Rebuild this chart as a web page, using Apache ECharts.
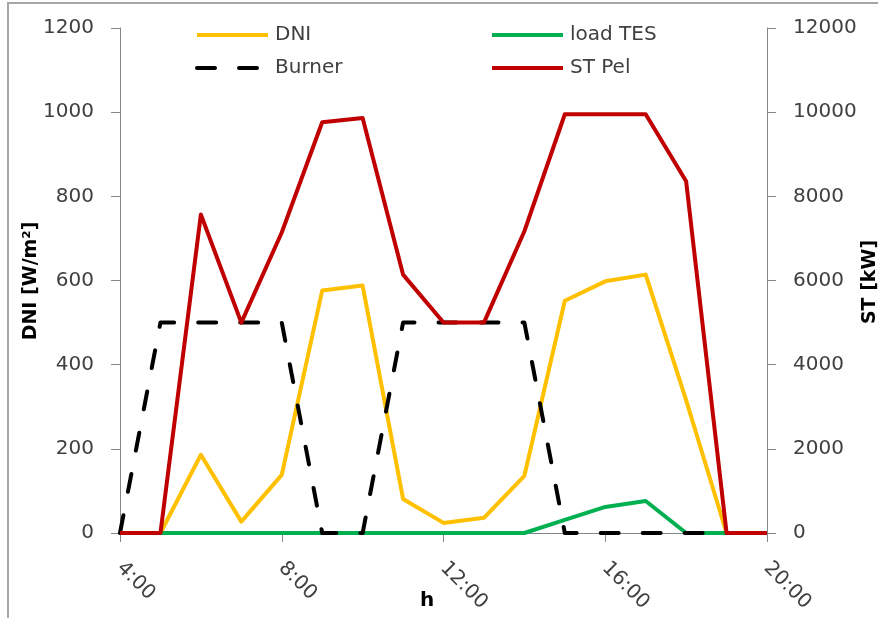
<!DOCTYPE html>
<html>
<head>
<meta charset="utf-8">
<title>DNI, burner, TES loading and steam turbine output</title>
<script src="https://cdn.jsdelivr.net/npm/echarts@6/dist/echarts.min.js"></script>
<style>
  html, body { margin: 0; padding: 0; background: #ffffff; }
  #chart { width: 878px; height: 618px; }
</style>
</head>
<body>
<div id="chart"></div>
<script>
// Hour of day for every sample
const hours = [4, 5, 6, 7, 8, 9, 10, 11, 12, 13, 14, 15, 16, 17, 18, 19, 20];

// Direct normal irradiance [W/m²] (left axis)
const dni = [0, 0, 186, 27, 138, 576, 588, 81, 24, 36, 136, 552, 598, 614, 316, 0, 0];

// Thermal storage loading [kW] (right axis)
const loadTes = [0, 0, 0, 0, 0, 0, 0, 0, 0, 0, 0, 310, 620, 760, 0, 0, 0];

// Burner operation [kW] (right axis)
const burner = [0, 5000, 5000, 5000, 5000, 0, 0, 5000, 5000, 5000, 5000, 0, 0, 0, 0, 0, 0];

// Steam turbine electrical output [kW] (right axis)
const stPel = [0, 0, 7570, 5000, 7140, 9760, 9860, 6140, 5000, 5000, 7170, 9950, 9950, 9950, 8360, 0, 0];

// Axis tick definitions
const hourTicks = { min: 4, max: 20, step: 4 };
const dniTicks = { min: 0, max: 1200, step: 200 };
const powerTicks = { min: 0, max: 12000, step: 2000 };

const pairs = (ys) => hours.map((h, i) => [h, ys[i]]);

const FONT = 'DejaVu Sans';
const TEXT = '#404040';
const AXIS = '#868686';

const chart = echarts.init(document.getElementById('chart'), null, { renderer: 'canvas' });

const lineSeries = (name, data, color, yAxisIndex, dash) => ({
  name: name,
  type: 'line',
  yAxisIndex: yAxisIndex,
  data: pairs(data),
  symbol: 'none',
  smooth: false,
  lineStyle: {
    color: color,
    width: 4,
    type: dash || 'solid',
    cap: dash ? 'round' : 'butt',
    join: 'round'
  },
  itemStyle: { color: color },
  emphasis: { disabled: true }
});

// Line-only legend keys (the marker dot is hidden)
const legendBase = {
  orient: 'vertical',
  padding: 0,
  itemWidth: 71,
  itemHeight: 20,
  itemGap: 13,
  itemStyle: { opacity: 0 },
  lineStyle: { width: 4 },
  textStyle: { fontFamily: FONT, fontSize: 20, color: TEXT, lineHeight: 20, padding: [0, 0, 0, 2] },
  selectedMode: false
};

chart.setOption({
  animation: false,
  backgroundColor: '#ffffff',
  grid: { left: 120, right: 111, top: 28, bottom: 85, containLabel: false },
  legend: [
    Object.assign({}, legendBase, { left: 195, top: 25, data: ['DNI', 'Burner'] }),
    Object.assign({}, legendBase, { left: 490, top: 25, data: ['load TES', 'ST Pel'] })
  ],
  xAxis: {
    type: 'value',
    min: hourTicks.min,
    max: hourTicks.max,
    interval: hourTicks.step,
    splitLine: { show: false },
    axisLine: { show: true, lineStyle: { color: AXIS, width: 1 } },
    axisTick: { show: true, inside: false, length: 9, lineStyle: { color: AXIS } },
    axisLabel: {
      rotate: -45,
      margin: 32,
      fontFamily: FONT,
      fontSize: 20,
      color: TEXT,
      formatter: (v) => v + ':00'
    }
  },
  yAxis: [
    {
      type: 'value',
      position: 'left',
      min: dniTicks.min,
      max: dniTicks.max,
      interval: dniTicks.step,
      splitLine: { show: false },
      axisLine: { show: true, lineStyle: { color: AXIS, width: 1 } },
      axisTick: { show: true, inside: false, length: 9, lineStyle: { color: AXIS } },
      axisLabel: { margin: 26, fontFamily: FONT, fontSize: 20, color: TEXT, formatter: (v) => String(v) }
    },
    {
      type: 'value',
      position: 'right',
      min: powerTicks.min,
      max: powerTicks.max,
      interval: powerTicks.step,
      splitLine: { show: false },
      axisLine: { show: true, lineStyle: { color: AXIS, width: 1 } },
      axisTick: { show: true, inside: false, length: 9, lineStyle: { color: AXIS } },
      axisLabel: { margin: 26, fontFamily: FONT, fontSize: 20, color: TEXT, formatter: (v) => String(v) }
    }
  ],
  series: [
    lineSeries('DNI', dni, '#FFC000', 0),
    lineSeries('load TES', loadTes, '#00B050', 1),
    lineSeries('Burner', burner, '#000000', 1, [18, 24]),
    lineSeries('ST Pel', stPel, '#C00000', 1)
  ],
  graphic: [
    {
      type: 'rect',
      silent: true,
      shape: { x: 8, y: 3, width: 900, height: 700 },
      style: { fill: 'none', stroke: '#a6a6a6', lineWidth: 2 }
    },
    {
      type: 'text',
      x: 31, y: 281,
      rotation: Math.PI / 2,
      style: { text: 'DNI [W/m²]', font: 'bold 19px "DejaVu Sans"', fill: '#000000', align: 'center', verticalAlign: 'middle' }
    },
    {
      type: 'text',
      x: 870, y: 282,
      rotation: Math.PI / 2,
      style: { text: 'ST [kW]', font: 'bold 19px "DejaVu Sans"', fill: '#000000', align: 'center', verticalAlign: 'middle' }
    },
    {
      type: 'text',
      x: 427, y: 601,
      style: { text: 'h', font: 'bold 20px "DejaVu Sans"', fill: '#000000', align: 'center', verticalAlign: 'middle' }
    }
  ]
});
</script>
</body>
</html>
